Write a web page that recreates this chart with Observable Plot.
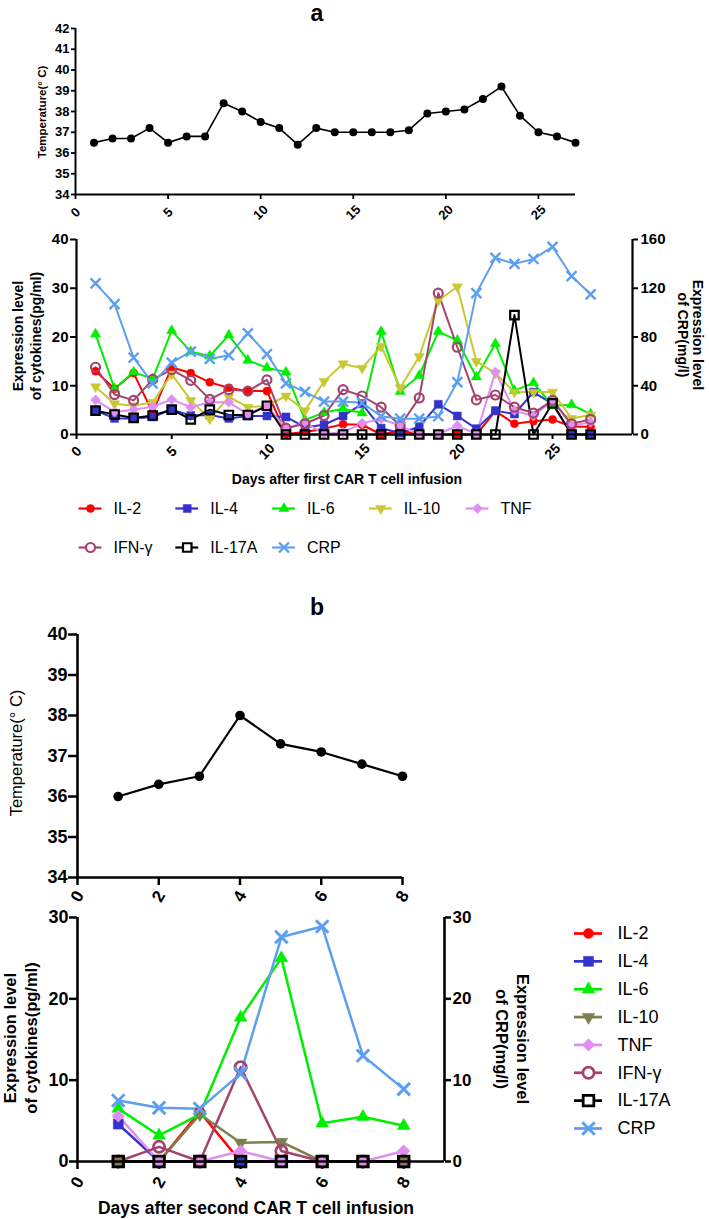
<!DOCTYPE html>
<html><head><meta charset="utf-8">
<script src="https://cdn.jsdelivr.net/npm/d3@7"></script>
<script src="https://cdn.jsdelivr.net/npm/@observablehq/plot@0.6"></script>
<style>
body{margin:0;background:#fff;}
#root{position:relative;width:709px;height:1219px;font-family:"Liberation Sans",Arial,Helvetica,sans-serif;color:#000;overflow:hidden;background:#fff}
.abs{position:absolute;white-space:nowrap;text-align:center;}
</style></head><body><div id="root"></div>
<script>
// ---------------- DATA ----------------
const seriesNames = ["IL-2","IL-4","IL-6","IL-10","TNF","IFN-γ","IL-17A","CRP"];

// Panel a
const daysA = [1,2,3,4,5,6,7,8,9,10,11,12,13,14,15,16,17,18,19,20,21,22,23,24,25,26,27];
const tempA = [36.5,36.7,36.7,37.2,36.5,36.8,36.8,38.4,38.0,37.5,37.2,36.4,37.2,37.0,37.0,37.0,37.0,37.1,37.9,38.0,38.1,38.6,39.2,37.8,37.0,36.8,36.5];
const il2A  = [13.0,9.4,12.6,4.5,13.8,12.6,10.7,9.6,8.9,8.9,0.1,0.5,1.2,2.1,2.0,0,0.8,0,0,0,0,4.8,2.2,2.7,3.1,1.6,1.6];
const il4A  = [4.9,3.3,3.3,3.6,5.1,3.9,4.0,3.3,3.8,3.8,3.6,1.5,2.0,3.8,6.3,1.3,0.3,1.6,6.2,3.8,1.2,4.9,4.2,8.7,6.3,0,0];
const il6A  = [20.6,9.4,12.8,11.4,21.3,17.0,16.1,20.4,15.2,13.7,12.8,3.0,4.5,5.3,4.4,21.1,8.8,12.1,21.1,19.3,11.8,18.6,9.0,10.6,5.9,6.1,4.2];
const il10A = [9.8,6.3,5.9,6.6,12.4,7.0,3.2,7.7,5.6,5.9,7.9,4.9,10.9,14.5,13.6,18.1,9.6,16.0,27.5,30.3,15.0,12.6,8.7,8.7,8.7,3.3,4.0];
const tnfA  = [7.1,4.6,5.1,5.7,7.2,5.6,6.6,6.6,4.2,5.9,1.2,2.5,0.1,0.5,2.3,3.2,1.8,0,0.1,1.8,0.1,12.8,4.9,3.8,7.0,1.8,2.5];
const ifnA  = [13.8,8.2,7.0,11.3,13.3,11.1,7.2,9.2,8.9,11.2,1.3,2.2,3.9,9.2,7.9,5.6,1.8,7.5,29.0,17.9,7.1,8.1,5.6,4.4,7.0,2.2,3.1];
const il17aA= [4.9,4.1,3.4,3.9,5.1,3.1,5.1,4.0,4.0,5.9,0,0,0,0,0,0,0,0,0,0,0,0,24.5,0,6.4,0,0];
const crpA  = [124,107,63,42,59,68,62,65,83,66,42,35,27,27,26,15,13,13,15,43,116,145,140,144,154,130,115];

// Panel b
const daysB = [1,2,3,4,5,6,7,8];
const tempB = [36.0,36.3,36.5,38.0,37.3,37.1,36.8,36.5];
const il2B  = [0,0,6.1,0,0,0,0,0];
const il4B  = [4.6,0,0,0,0,0,0,0];
const il6B  = [6.5,3.2,5.8,17.7,25.0,4.7,5.5,4.4];
const il10B = [0,0,5.8,2.3,2.4,0,0,0];
const tnfB  = [5.6,0,0,1.3,0,0,0,1.3];
const ifnB  = [0,1.8,0,11.6,1.3,0,0,0];
const il17aB= [0,0,0,0,0,0,0,0];
const crpB  = [7.5,6.6,6.5,10.8,27.6,28.9,13.0,8.9];

// Ticks
const dayTicksA = [0,5,10,15,20,25];
const tempTicksA = [34,35,36,37,38,39,40,41,42];
const cytoTicksA = [0,10,20,30,40];
const crpTicksA = [0,40,80,120,160];
const dayTicksB = [0,2,4,6,8];
const tempTicksB = [34,35,36,37,38,39,40];
const cytoTicksB = [0,10,20,30];
const crpTicksB = [0,10,20,30];

// ---------------- STYLE ----------------
const FONT = '"Liberation Sans", Arial, Helvetica, sans-serif';
const colorsA = ["#ff0000","#3333cc","#00ee00","#c8c832","#e08ef2","#a3436f","#000000","#5c9ff0"];
const colorsB = ["#ff0000","#3333cc","#00ee00","#7f7f4c","#e08ef2","#a3436f","#000000","#5c9ff0"];
const downTriangle = {
  draw(context, size) {
    const y = -Math.sqrt(size / (Math.sqrt(3) * 3));
    context.moveTo(0, -y * 2);
    context.lineTo(Math.sqrt(3) * y, y);
    context.lineTo(-Math.sqrt(3) * y, y);
    context.closePath();
  }
};
const symbols = ["circle","square","triangle",downTriangle,"diamond2","circle","square","times"];
const kind = ["fill","fill","fill","fill","fill","hollow","hollow","stroke"];
const radii = [4,4.5,3.8,3.8,4.5,4.5,4.8,4.6];
const intFmt = d => String(d);

const root = document.getElementById("root");
function place(el, top) {
  el.style.position = "absolute"; el.style.left = "0px"; el.style.top = top + "px";
  root.appendChild(el);
}
function addText(html, x, y, {size=14, weight="bold", rotate=0, lh=1.15, topAnchor=false}={}) {
  const d = document.createElement("div");
  d.className = "abs";
  d.innerHTML = html;
  Object.assign(d.style, {left: x+"px", top: y+"px", fontSize: size+"px", fontWeight: weight,
    lineHeight: String(lh),
    transform: topAnchor ? "translate(-50%,0)" : `translate(-50%,-50%) rotate(${rotate}deg)`});
  root.appendChild(d);
}
const baseStyle = {fontFamily: FONT, background: "transparent", overflow: "visible", color: "black"};

function seriesMarks(days, list, colors, crpFactor, k, lw) {
  const marks = [];
  const tables = list.map((vals, i) => days.map((d, j) => ({day: d, v: i === 7 ? vals[j] / crpFactor : vals[j]})));
  tables.forEach((rows, i) => marks.push(Plot.line(rows, {x: "day", y: "v", stroke: colors[i], strokeWidth: lw})));
  tables.forEach((rows, i) => {
    const o = {x: "day", y: "v", symbol: symbols[i], r: radii[i] * k};
    if (kind[i] === "fill") Object.assign(o, {fill: colors[i], stroke: colors[i], strokeWidth: 0.5});
    else if (kind[i] === "hollow") Object.assign(o, {fill: "none", stroke: colors[i], strokeWidth: 2.2 * k});
    else Object.assign(o, {fill: "none", stroke: colors[i], strokeWidth: 2.4 * k});
    marks.push(Plot.dot(rows, o));
  });
  return marks;
}

// ---------------- PANEL a : temperature ----------------
{
  const rows = daysA.map((d, i) => ({day: d, t: tempA[i]}));
  const p = Plot.plot({
    width: 709, height: 230, marginLeft: 75, marginRight: 134, marginTop: 28, marginBottom: 36,
    style: {...baseStyle},
    x: {domain: [0, 27]}, y: {domain: [34, 42]},
    marks: [
      Plot.axisY({ticks: tempTicksA, tickFormat: intFmt, tickSize: 4, tickPadding: 2, fontSize: 13, fontWeight: "bold", strokeWidth: 1.8, label: null}),
      Plot.axisX({ticks: dayTicksA, tickSize: 5, fill: "none", strokeWidth: 1.8, label: null}),
      Plot.text(dayTicksA, {x: d => d, frameAnchor: "bottom", dy: 18, rotate: -45, text: d => String(d), fontSize: 13, fontWeight: "bold", textAnchor: "middle", lineAnchor: "middle"}),
      Plot.ruleX([0], {y1: 34, y2: 42, strokeWidth: 2}),
      Plot.ruleY([34], {x1: 0, x2: 27, strokeWidth: 2}),
      Plot.line(rows, {x: "day", y: "t", stroke: "black", strokeWidth: 1.6}),
      Plot.dot(rows, {x: "day", y: "t", fill: "black", r: 4})
    ]
  });
  place(p, 0);
}

// ---------------- PANEL a : cytokines ----------------
const crpFactorA = 4;
{
  const p = Plot.plot({
    width: 709, height: 240, marginLeft: 76, marginRight: 77, marginTop: 14, marginBottom: 31,
    style: {...baseStyle},
    x: {domain: [0, 29.2]}, y: {domain: [0, 40]},
    marks: [
      Plot.axisY({ticks: cytoTicksA, tickFormat: intFmt, tickSize: 6, tickPadding: 2, fontSize: 15, fontWeight: "bold", strokeWidth: 2, label: null}),
      Plot.axisY({anchor: "right", ticks: crpTicksA.map(v => v / crpFactorA), tickFormat: d => String(d * crpFactorA), tickSize: 5, tickPadding: 3, fontSize: 15, fontWeight: "bold", strokeWidth: 2, label: null}),
      Plot.axisX({ticks: dayTicksA, tickSize: 5, fill: "none", strokeWidth: 2, label: null}),
      Plot.text(dayTicksA, {x: d => d, frameAnchor: "bottom", dy: 17, rotate: -45, text: d => String(d), fontSize: 14, fontWeight: "bold", textAnchor: "middle", lineAnchor: "middle"}),
      ...seriesMarks(daysA, [il2A, il4A, il6A, il10A, tnfA, ifnA, il17aA, crpA], colorsA, crpFactorA, 1, 2),
      Plot.ruleX([0], {y1: 0, y2: 40, strokeWidth: 2.2}),
      Plot.ruleX([29.2], {y1: 0, y2: 40, strokeWidth: 2.2}),
      Plot.ruleY([0], {x1: 0, x2: 29.2, strokeWidth: 2.2})
    ]
  });
  place(p, 225);
}

// ---------------- legends ----------------
function legendMarks(entries, colors, k, halfLen, dx, fs) {
  const m = [];
  entries.forEach((e) => {
    m.push(Plot.ruleY([e], {y: "row", x1: d => d.col - halfLen, x2: d => d.col + halfLen, stroke: colors[e.i], strokeWidth: 2.2 * k}));
    const o = {x: "col", y: "row", symbol: symbols[e.i], r: radii[e.i] * k};
    if (kind[e.i] === "fill") Object.assign(o, {fill: colors[e.i], stroke: colors[e.i], strokeWidth: 0.5});
    else if (kind[e.i] === "hollow") Object.assign(o, {fill: "white", stroke: colors[e.i], strokeWidth: 2.2 * k});
    else Object.assign(o, {fill: "none", stroke: colors[e.i], strokeWidth: 2.4 * k});
    m.push(Plot.dot([e], o));
  });
  m.push(Plot.text(entries, {x: "col", y: "row", text: "name", dx, textAnchor: "start", fontSize: fs, fontWeight: "normal"}));
  return m;
}
{
  const entries = seriesNames.map((name, i) => ({name, i, col: i % 5, row: Math.floor(i / 5)}));
  const p = Plot.plot({
    width: 709, height: 90,
    style: {...baseStyle},
    x: {domain: [0, 4], range: [90, 477], axis: null}, y: {domain: [0, 1], range: [28, 67], axis: null},
    marks: legendMarks(entries, colorsA, 1, 0.118, 23, 16)
  });
  place(p, 480);
}

// ---------------- PANEL b : temperature ----------------
{
  const rows = daysB.map((d, i) => ({day: d, t: tempB[i]}));
  const p = Plot.plot({
    width: 709, height: 290, marginLeft: 77, marginRight: 307, marginTop: 14, marginBottom: 33,
    style: {...baseStyle},
    x: {domain: [0, 8]}, y: {domain: [34, 40]},
    marks: [
      Plot.axisY({ticks: tempTicksB, tickFormat: intFmt, tickSize: 9, tickPadding: 1, fontSize: 18, fontWeight: "bold", strokeWidth: 2.5, label: null}),
      Plot.axisX({ticks: dayTicksB, tickSize: 8, fill: "none", strokeWidth: 2.5, label: null}),
      Plot.text(dayTicksB, {x: d => d, frameAnchor: "bottom", dy: 19, rotate: -60, text: d => String(d), fontSize: 17, fontWeight: "bold", textAnchor: "middle", lineAnchor: "middle"}),
      Plot.ruleX([0], {y1: 34, y2: 40, strokeWidth: 2.6}),
      Plot.ruleY([34], {x1: 0, x2: 8, strokeWidth: 2.6}),
      Plot.line(rows, {x: "day", y: "t", stroke: "black", strokeWidth: 2.2}),
      Plot.dot(rows, {x: "day", y: "t", fill: "black", r: 4.8})
    ]
  });
  place(p, 620);
}

// ---------------- PANEL b : cytokines ----------------
const crpFactorB = 1;
{
  const p = Plot.plot({
    width: 709, height: 324, marginLeft: 77, marginRight: 265, marginTop: 22, marginBottom: 58,
    style: {...baseStyle},
    x: {domain: [0, 9]}, y: {domain: [0, 30]},
    marks: [
      Plot.axisY({ticks: cytoTicksB, tickFormat: intFmt, tickSize: 8, tickPadding: 1, fontSize: 18, fontWeight: "bold", strokeWidth: 2.5, label: null}),
      Plot.axisY({anchor: "right", ticks: crpTicksB.map(v => v / crpFactorB), tickFormat: d => String(d * crpFactorB), tickSize: 6, tickPadding: 2, fontSize: 17, fontWeight: "bold", strokeWidth: 2.5, label: null}),
      Plot.axisX({ticks: dayTicksB, tickSize: 8, fill: "none", strokeWidth: 2.5, label: null}),
      Plot.text(dayTicksB, {x: d => d, frameAnchor: "bottom", dy: 21, rotate: -60, text: d => String(d), fontSize: 17, fontWeight: "bold", textAnchor: "middle", lineAnchor: "middle"}),
      ...seriesMarks(daysB, [il2B, il4B, il6B, il10B, tnfB, ifnB, il17aB, crpB], colorsB, crpFactorB, 1.25, 2.5),
      Plot.ruleX([0], {y1: 0, y2: 30, strokeWidth: 2.6}),
      Plot.ruleX([9], {y1: 0, y2: 30, strokeWidth: 2.6}),
      Plot.ruleY([0], {x1: 0, x2: 9, strokeWidth: 2.6})
    ]
  });
  place(p, 895);
}

{
  const entries = seriesNames.map((name, i) => ({name, i, col: 0, row: i}));
  const p = Plot.plot({
    width: 709, height: 260,
    style: {...baseStyle},
    x: {domain: [0, 1], range: [588, 700], axis: null}, y: {domain: [0, 7], range: [33, 228], axis: null},
    marks: legendMarks(entries, colorsB, 1.25, 0.125, 29, 18)
  });
  place(p, 900);
}

// ---------------- TEXT ----------------
addText("a", 317, 0, {size: 23, topAnchor: true, lh: 1.15});
addText("b", 317, 607, {size: 23});
addText("Temperature(° C)", 43, 112, {size: 11.5, rotate: -90});
addText("Expression level<br>of cytokines(pg/ml)", 26.5, 336, {size: 14, rotate: -90, lh: 1.25});
addText("Expression level<br>of CRP(mg/l)", 690, 335, {size: 14, rotate: 90, lh: 1.1});
addText("Days after first CAR T cell infusion", 347, 479, {size: 14});
addText("Temperature(° C)", 16, 753, {size: 16.5, weight: "normal", rotate: -90});
addText("Expression level<br>of cytokines(pg/ml)", 20.5, 1038, {size: 16.5, rotate: -90, lh: 1.3});
addText("Expression level<br>of CRP(mg/l)", 511.5, 1039, {size: 16.5, rotate: 90, lh: 1.27});
addText("Days after second CAR T cell infusion", 256, 1208, {size: 17.5});
</script>
</body></html>
